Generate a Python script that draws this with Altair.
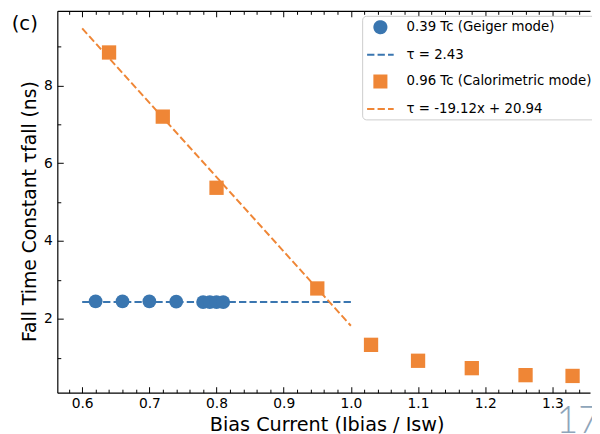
import altair as alt
import pandas as pd

# ---- data ----
geiger_x = [0.62, 0.66, 0.70, 0.74, 0.78, 0.79, 0.80, 0.81]
geiger_y = [2.45, 2.45, 2.45, 2.44, 2.43, 2.43, 2.43, 2.43]
calor_x = [0.64, 0.72, 0.80, 0.95, 1.03, 1.10, 1.18, 1.26, 1.33]
calor_y = [8.85, 7.20, 5.37, 2.78, 1.33, 0.92, 0.73, 0.55, 0.53]
geiger_fit_x = [0.60, 1.00]
geiger_fit_y = [2.43, 2.43]
calor_fit_x = [0.60, 1.00]
calor_fit_y = [9.47, 1.82]

series = ["0.39 Tc (Geiger mode)", "τ = 2.43",
          "0.96 Tc (Calorimetric mode)", "τ = -19.12x + 20.94"]

x_major = [0.6, 0.7, 0.8, 0.9, 1.0, 1.1, 1.2, 1.3]
x_minor = [0.58, 0.62, 0.64, 0.66, 0.68, 0.72, 0.74, 0.76, 0.78, 0.82, 0.84, 0.86, 0.88,
           0.92, 0.94, 0.96, 0.98, 1.02, 1.04, 1.06, 1.08, 1.12, 1.14, 1.16, 1.18,
           1.22, 1.24, 1.26, 1.28, 1.32, 1.34]
y_major = [2, 4, 6, 8]
y_minor = [1, 3, 5, 7, 9]

BLUE = "#3a76b0"
ORANGE = "#ef8636"
FONT = "DejaVu Sans"

g_pts = pd.DataFrame({"x": geiger_x, "y": geiger_y, "series": series[0]})
g_fit = pd.DataFrame({"x": geiger_fit_x, "y": geiger_fit_y, "series": series[1]})
c_pts = pd.DataFrame({"x": calor_x, "y": calor_y, "series": series[2]})
c_fit = pd.DataFrame({"x": calor_fit_x, "y": calor_fit_y, "series": series[3]})

xs = alt.Scale(domain=[0.563, 1.356], zero=False, nice=False)
ys = alt.Scale(domain=[0.10, 9.92], zero=False, nice=False)

color_scale = alt.Scale(domain=series, range=[BLUE, BLUE, ORANGE, ORANGE])
shape_scale = alt.Scale(domain=series, range=["circle", "M-2.2,0H2.2", "square", "M-2.2,0H2.2"])
dash_scale = alt.Scale(domain=series, range=[[1, 0], [7.4, 3.2], [1, 0], [7.4, 3.2]])

MAJ, MIN = 6, 3.5


def tick_axis(orient, values, size):
    return alt.Axis(orient=orient, values=values, ticks=True, tickSize=size, offset=-size,
                    tickColor="black", tickWidth=1, domain=False, labels=False,
                    grid=False, title=None)


x_main = alt.Axis(orient="bottom", values=x_major, format=".1f", ticks=False, domain=True,
                  domainColor="black", domainWidth=1.2, labelFont=FONT, labelFontSize=14,
                  labelColor="black", labelPadding=4, labelFlush=False, grid=False,
                  title="Bias Current (Ibias / Isw)", titleFont=FONT, titleFontSize=19.5,
                  titleFontWeight="normal", titleColor="black", titlePadding=5, titleX=273)
y_main = alt.Axis(orient="left", values=y_major, format="d", ticks=False, domain=True,
                  domainColor="black", domainWidth=1.2, labelFont=FONT, labelFontSize=14,
                  labelColor="black", labelPadding=5, labelFlush=False, grid=False,
                  title="Fall Time Constant τfall (ns)", titleFont=FONT, titleFontSize=19,
                  titleFontWeight="normal", titleColor="black", titlePadding=4, titleY=203)
x_top = alt.Axis(orient="top", ticks=False, domain=True, domainColor="black", domainWidth=1.2,
                 labels=False, grid=False, title=None)

l1 = alt.Chart(g_fit).mark_line(strokeWidth=2).encode(
    x=alt.X("x:Q", scale=xs, axis=x_main),
    y=alt.Y("y:Q", scale=ys, axis=y_main),
    stroke=alt.Stroke("series:N", scale=color_scale, title=None),
    strokeDash=alt.StrokeDash("series:N", scale=dash_scale, title=None),
)
l2 = alt.Chart(c_fit).mark_line(strokeWidth=2).encode(
    x=alt.X("x:Q", scale=xs, axis=tick_axis("bottom", x_major, MAJ)),
    y=alt.Y("y:Q", scale=ys, axis=tick_axis("left", y_major, MAJ)),
    stroke=alt.Stroke("series:N", scale=color_scale, title=None),
    strokeDash=alt.StrokeDash("series:N", scale=dash_scale, title=None),
)
l3 = alt.Chart(g_pts).mark_point(filled=True, opacity=1, size=196).encode(
    x=alt.X("x:Q", scale=xs, axis=tick_axis("bottom", x_minor, MIN)),
    y=alt.Y("y:Q", scale=ys, axis=tick_axis("left", y_minor, MIN)),
    fill=alt.Fill("series:N", scale=color_scale, title=None),
    shape=alt.Shape("series:N", scale=shape_scale, title=None),
)
l4 = alt.Chart(c_pts).mark_point(filled=True, opacity=1, size=210).encode(
    x=alt.X("x:Q", scale=xs, axis=x_top),
    y=alt.Y("y:Q", scale=ys, axis=None),
    fill=alt.Fill("series:N", scale=color_scale, title=None),
    shape=alt.Shape("series:N", scale=shape_scale, title=None),
)
l5 = alt.Chart(c_pts).mark_point(opacity=0).encode(
    x=alt.X("x:Q", scale=xs, axis=tick_axis("top", x_major, MAJ)),
    y=alt.Y("y:Q", scale=ys, axis=None),
)
l6 = alt.Chart(c_pts).mark_point(opacity=0).encode(
    x=alt.X("x:Q", scale=xs, axis=tick_axis("top", x_minor, MIN)),
    y=alt.Y("y:Q", scale=ys, axis=None),
)

panel_label = alt.Chart(pd.DataFrame({"t": ["(c)"]})).mark_text(
    font=FONT, fontSize=20, color="black", align="center", baseline="alphabetic"
).encode(x=alt.value(-33), y=alt.value(19), text="t:N")

page_num = alt.Chart(pd.DataFrame({"t": ["17"]})).mark_text(
    font="Lato", fontSize=38, fontWeight=300, color="#8ea5ba", align="center",
    baseline="alphabetic"
).encode(x=alt.value(528), y=alt.value(428), text="t:N")

chart = alt.layer(l1, l2, l3, l4, l5, l6, panel_label, page_num).resolve_axis(
    x="independent", y="independent"
).properties(
    width=540, height=387,
    autosize=alt.AutoSizeParams(type="none"),
    padding={"left": 50, "top": 0, "right": 2, "bottom": 39},
).configure_view(stroke=None).configure_legend(
    orient="none", legendX=309, legendY=5, padding=4, rowPadding=10,
    fillColor="white", strokeColor="#cccccc", cornerRadius=4,
    labelFont=FONT, labelFontSize=13.5, labelColor="black", labelOffset=19, labelLimit=400,
    symbolSize=150, symbolStrokeWidth=2, symbolOffset=7,
)

chart.save("out.html", embed_options={"renderer": "svg", "actions": False})
